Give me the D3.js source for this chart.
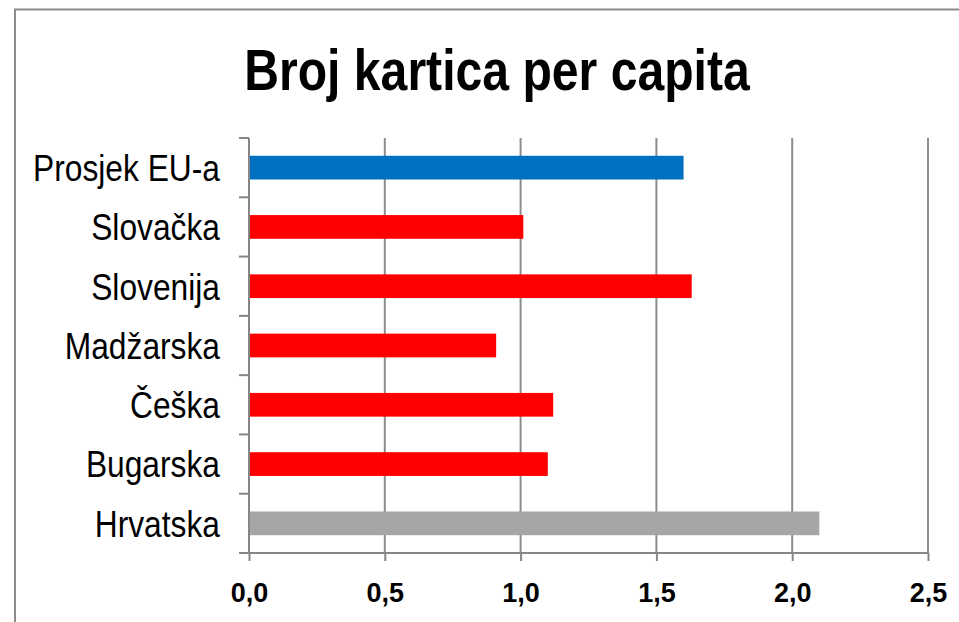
<!DOCTYPE html>
<html>
<head>
<meta charset="utf-8">
<script src="https://cdn.jsdelivr.net/npm/d3@7"></script>
<style>
html, body { margin: 0; padding: 0; background: #fff; overflow: hidden; }
svg { display: block; }
</style>
</head>
<body>
<script>
const categories = ["Prosjek EU-a", "Slovačka", "Slovenija", "Madžarska", "Češka", "Bugarska", "Hrvatska"];
const values = [1.60, 1.01, 1.63, 0.91, 1.12, 1.10, 2.10];
const barColors = ["#0070C0", "#FF0000", "#FF0000", "#FF0000", "#FF0000", "#FF0000", "#A6A6A6"];
const tickValues = [0, 0.5, 1.0, 1.5, 2.0, 2.5];
const tickLabels = ["0,0", "0,5", "1,0", "1,5", "2,0", "2,5"];
const title = "Broj kartica per capita";

const W = 959, H = 622;
const FONT = "'Liberation Sans', Arial, sans-serif";
const svg = d3.select("body").append("svg").attr("width", W).attr("height", H);

// chart border (right/bottom outside the view)
svg.append("rect").attr("x", 15).attr("y", 9.5).attr("width", 1200).attr("height", 1200)
  .attr("fill", "none").attr("stroke", "#8c8c8c").attr("stroke-width", 2);

const plot = { left: 249, right: 928, top: 138, bottom: 553 };

const x = d3.scaleLinear().domain([0, 2.5]).range([plot.left, plot.right]);
const y = d3.scaleBand().domain(categories).range([plot.top, plot.bottom]).paddingInner(0.6).paddingOuter(0.3);

// title
svg.append("text").attr("transform", `translate(497,90) scale(0.83,1)`).attr("text-anchor", "middle")
  .attr("font-family", FONT).attr("font-weight", "bold").attr("font-size", 58).attr("fill", "#000")
  .text(title);

// gridlines
svg.append("g").selectAll("line").data(tickValues.slice(1)).join("line")
  .attr("x1", d => x(d)).attr("x2", d => x(d))
  .attr("y1", plot.top).attr("y2", plot.bottom)
  .attr("stroke", "#8c8c8c").attr("stroke-width", 2);

// bars
svg.append("g").selectAll("rect").data(categories).join("rect")
  .attr("x", x(0)).attr("y", d => y(d))
  .attr("width", (d, i) => x(values[i]) - x(0))
  .attr("height", y.bandwidth())
  .attr("fill", (d, i) => barColors[i]);

// y axis line + ticks at band boundaries
const yAxisG = svg.append("g");
yAxisG.append("line").attr("x1", plot.left).attr("x2", plot.left)
  .attr("y1", plot.top).attr("y2", plot.bottom).attr("stroke", "#868686").attr("stroke-width", 2);
const boundaries = d3.range(categories.length + 1).map(i => plot.top + i * (plot.bottom - plot.top) / categories.length);
yAxisG.selectAll("line.tk").data(boundaries).join("line").attr("class", "tk")
  .attr("x1", plot.left - 10).attr("x2", plot.left)
  .attr("y1", d => d).attr("y2", d => d)
  .attr("stroke", "#868686").attr("stroke-width", 2);

// category labels
svg.append("g").selectAll("text").data(categories).join("text")
  .attr("transform", d => `translate(220,${y(d) + y.bandwidth() / 2}) scale(0.858,1)`)
  .attr("dy", "0.36em").attr("text-anchor", "end")
  .attr("font-family", FONT).attr("font-size", 37).attr("fill", "#000")
  .text(d => d);

// x axis
const xAxis = d3.axisBottom(x).tickValues(tickValues).tickFormat((d, i) => tickLabels[i]).tickSize(8).tickSizeOuter(0);
const xg = svg.append("g").attr("transform", `translate(0,${plot.bottom})`).call(xAxis);
xg.select(".domain").remove();
xg.append("line").attr("x1", plot.left - 10).attr("x2", plot.right).attr("y1", 0).attr("y2", 0)
  .attr("stroke", "#868686").attr("stroke-width", 2);
xg.selectAll(".tick line").attr("stroke", "#868686").attr("stroke-width", 2);
xg.selectAll(".tick text").attr("font-family", FONT).attr("font-weight", "bold")
  .attr("font-size", 27).attr("fill", "#000")
  .attr("y", 49).attr("dy", 0);
</script>
</body>
</html>
